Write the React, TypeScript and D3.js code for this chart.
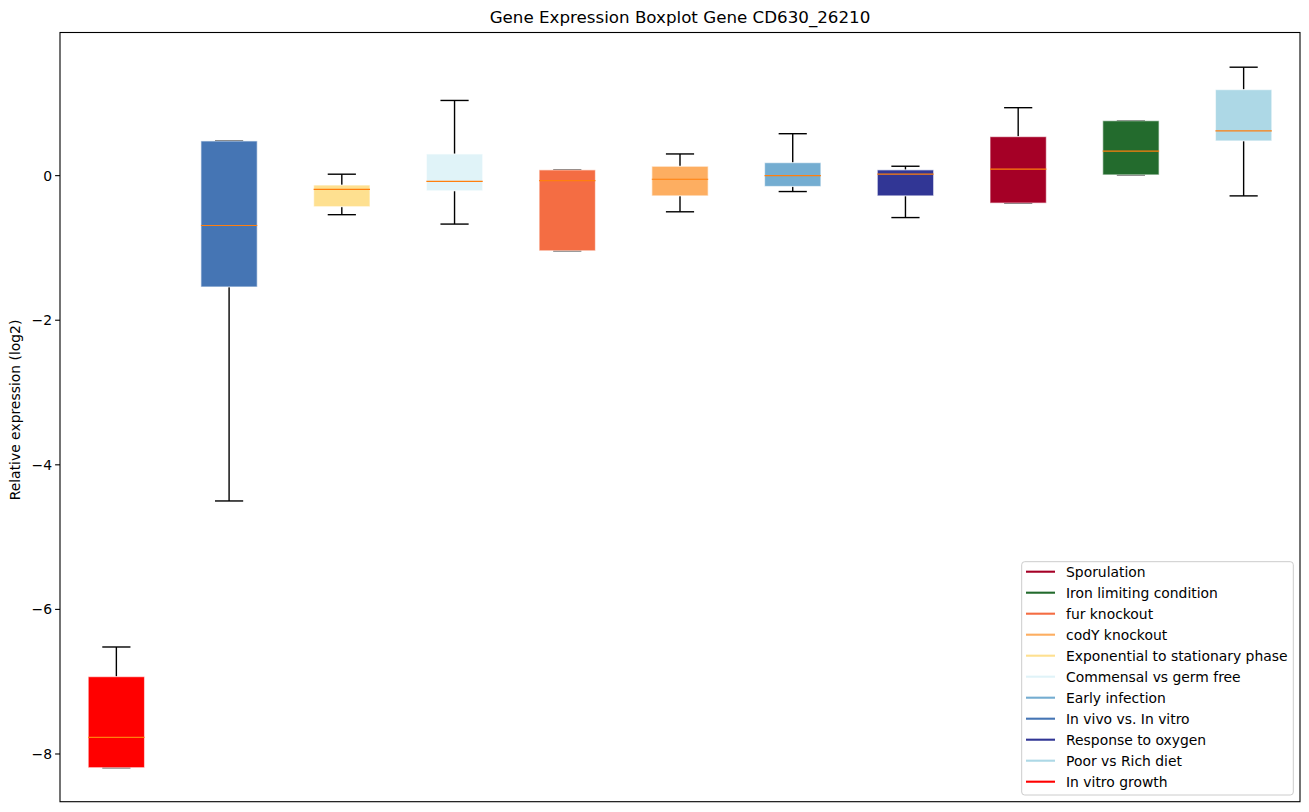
import React from 'react';
import * as d3 from 'd3';

// box order, left to right
const groups = [
    'In vitro growth',
    'In vivo vs. In vitro',
    'Exponential to stationary phase',
    'Commensal vs germ free',
    'fur knockout',
    'codY knockout',
    'Early infection',
    'Response to oxygen',
    'Sporulation',
    'Iron limiting condition',
    'Poor vs Rich diet',
];
const colors = ['#ff0000', '#4575b4', '#fee090', '#e0f3f8', '#f46d43', '#fdae61', '#74add1', '#313695', '#a50026', '#236b2d', '#add8e6'];

const whiskerLow = [-8.19, -4.50, -0.54, -0.67, -1.04, -0.50, -0.22, -0.58, -0.38, 0.01, -0.28];
const q1 = [-8.19, -1.54, -0.43, -0.21, -1.04, -0.28, -0.15, -0.28, -0.38, 0.01, 0.48];
const median = [-7.77, -0.69, -0.19, -0.08, -0.07, -0.05, 0.00, 0.02, 0.09, 0.34, 0.62];
const q3 = [-6.93, 0.48, -0.13, 0.30, 0.08, 0.13, 0.18, 0.08, 0.54, 0.76, 1.19];
const whiskerHigh = [-6.52, 0.48, 0.02, 1.04, 0.08, 0.30, 0.58, 0.13, 0.94, 0.76, 1.50];

const legendOrder = [
    'Sporulation',
    'Iron limiting condition',
    'fur knockout',
    'codY knockout',
    'Exponential to stationary phase',
    'Commensal vs germ free',
    'Early infection',
    'In vivo vs. In vitro',
    'Response to oxygen',
    'Poor vs Rich diet',
    'In vitro growth',
];

const yTicks = [-8, -6, -4, -2, 0];

const W = 1309, H = 812;
const left = 60, right = 1300, top = 32.5, bottom = 801.7;
const font = 'DejaVu Sans, sans-serif';

const App: React.FC = () => {
    const x = d3.scaleLinear().domain([0.5, groups.length + 0.5]).range([left, right]);
    const y = d3.scaleLinear().domain([-8.66, 1.98]).range([bottom, top]);
    const bw = x(1.5) - x(1); // box width 0.5
    const capW = bw / 2;

    return (
        <svg width={W} height={H} style={{ position: 'absolute', left: 0, top: 0 }} fontFamily={font}>
            <rect width={W} height={H} fill="white" />
            <text x={(left + right) / 2} y={23} textAnchor="middle" fontSize={16.7}>
                Gene Expression Boxplot Gene CD630_26210
            </text>
            {groups.map((g, i) => {
                const cx = x(i + 1);
                return (
                    <g key={g}>
                        <line x1={cx} x2={cx} y1={y(q1[i])} y2={y(whiskerLow[i])} stroke="black" strokeWidth={1.4} />
                        <line x1={cx} x2={cx} y1={y(q3[i])} y2={y(whiskerHigh[i])} stroke="black" strokeWidth={1.4} />
                        <line x1={cx - capW / 2} x2={cx + capW / 2} y1={y(whiskerLow[i])} y2={y(whiskerLow[i])} stroke="black" strokeWidth={1.4} />
                        <line x1={cx - capW / 2} x2={cx + capW / 2} y1={y(whiskerHigh[i])} y2={y(whiskerHigh[i])} stroke="black" strokeWidth={1.4} />
                        <rect x={cx - bw / 2} y={y(q3[i])} width={bw} height={y(q1[i]) - y(q3[i])}
                            fill={colors[i]} stroke="white" strokeOpacity={0.6} strokeWidth={1.2} />
                        <line x1={cx - bw / 2} x2={cx + bw / 2} y1={y(median[i])} y2={y(median[i])} stroke="#ff7f0e" strokeWidth={1.2} />
                    </g>
                );
            })}
            <rect x={left} y={top} width={right - left} height={bottom - top} fill="none" stroke="black" strokeWidth={1.1} />
            {yTicks.map(t => (
                <g key={t} transform={`translate(${left},${y(t)})`}>
                    <line x1={-4.9} x2={0} stroke="black" strokeWidth={1.1} />
                    <text x={-8} dy="0.35em" textAnchor="end" fontSize={13.9}>{t < 0 ? `\u2212${-t}` : t}</text>
                </g>
            ))}
            <text transform={`translate(20,410) rotate(-90)`} textAnchor="middle" fontSize={13.9}>
                Relative expression (log2)
            </text>
            <g>
                <rect x={1021.7} y={561.7} width={271.6} height={233.3} rx={3} fill="white" fillOpacity={0.8} stroke="#cccccc" />
                {legendOrder.map((g, k) => {
                    const ly = 571.7 + k * 21;
                    const c = colors[groups.indexOf(g)];
                    return (
                        <g key={g}>
                            <line x1={1026} x2={1055} y1={ly} y2={ly} stroke={c} strokeWidth={2.1} />
                            <text x={1066} y={ly} dy="0.35em" fontSize={13.9}>{g}</text>
                        </g>
                    );
                })}
            </g>
        </svg>
    );
};

export default App;
